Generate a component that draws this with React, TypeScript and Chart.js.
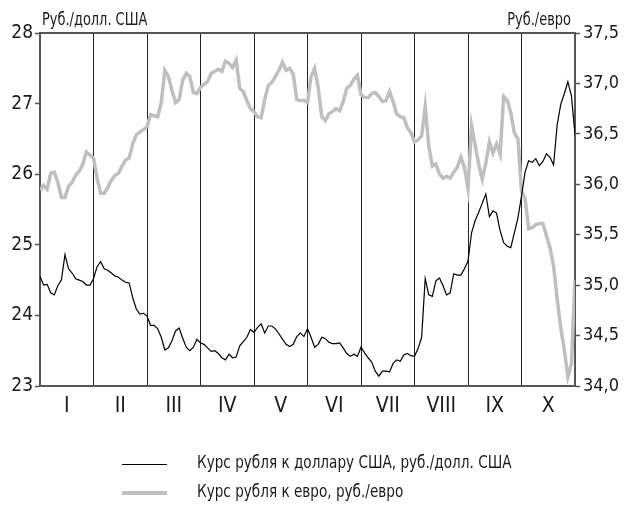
import React, { useEffect, useRef } from 'react';
import { Chart, registerables } from 'chart.js';

Chart.register(...registerables);

const MONTHS = ['I', 'II', 'III', 'IV', 'V', 'VI', 'VII', 'VIII', 'IX', 'X'];
const POINTS_PER_MONTH = 15;

const USD_LABEL = 'Курс рубля к доллару США, руб./долл. США';
const EUR_LABEL = 'Курс рубля к евро, руб./евро';
const LEFT_TITLE = 'Руб./долл. США';
const RIGHT_TITLE = 'Руб./евро';

const USD_TICKS = { min: 23, max: 28, step: 1 };
const EUR_TICKS = { min: 34, max: 37.5, step: 0.5 };

const USD = [
  24.55, 24.43, 24.44, 24.32, 24.29, 24.42, 24.50, 24.86, 24.66, 24.60, 24.52, 24.50, 24.48, 24.43, 24.43,
  24.52, 24.69, 24.76, 24.66, 24.64, 24.60, 24.56, 24.54, 24.50, 24.47, 24.46, 24.25, 24.09, 24.02, 24.03,
  23.99, 23.86, 23.86, 23.81, 23.69, 23.51, 23.54, 23.64, 23.78, 23.82, 23.68, 23.55, 23.50, 23.55, 23.66,
  23.61, 23.59, 23.54, 23.49, 23.50, 23.46, 23.40, 23.37, 23.45, 23.40, 23.41, 23.57, 23.63, 23.69, 23.80,
  23.76, 23.83, 23.88, 23.75, 23.85, 23.85, 23.81, 23.74, 23.66, 23.59, 23.56, 23.59, 23.70, 23.75, 23.70,
  23.81, 23.69, 23.55, 23.59, 23.69, 23.67, 23.62, 23.60, 23.60, 23.61, 23.54, 23.46, 23.42, 23.45, 23.42,
  23.55, 23.47, 23.40, 23.34, 23.21, 23.14, 23.21, 23.21, 23.20, 23.32, 23.37, 23.35, 23.44, 23.46, 23.43,
  23.42, 23.53, 23.69, 24.52, 24.29, 24.27, 24.49, 24.53, 24.42, 24.29, 24.32, 24.59, 24.57, 24.57, 24.66,
  24.77, 25.17, 25.34, 25.46, 25.59, 25.72, 25.40, 25.48, 25.45, 25.20, 25.03, 24.98, 24.96, 25.17, 25.38,
  25.69, 26.03, 26.19, 26.17, 26.22, 26.12, 26.18, 26.29, 26.24, 26.13, 26.70, 26.99, 27.14, 27.31, 27.11, 26.56,
];

const EUR = [
  35.94, 35.99, 35.95, 36.11, 36.12, 36.02, 35.87, 35.87, 35.98, 36.02, 36.09, 36.13, 36.20, 36.32, 36.29,
  36.26, 36.06, 35.91, 35.91, 35.97, 36.04, 36.09, 36.11, 36.18, 36.24, 36.26, 36.40, 36.49, 36.52, 36.54,
  36.57, 36.69, 36.68, 36.67, 36.81, 37.13, 37.07, 36.93, 36.81, 36.84, 37.03, 37.10, 37.07, 36.91, 36.90,
  36.96, 36.99, 37.02, 37.10, 37.12, 37.14, 37.12, 37.22, 37.20, 37.16, 37.23, 36.95, 36.92, 36.83, 36.75,
  36.72, 36.67, 36.66, 36.84, 36.98, 37.01, 37.07, 37.13, 37.21, 37.13, 37.15, 37.09, 36.84, 36.83, 36.83,
  36.81, 37.07, 37.15, 36.96, 36.67, 36.63, 36.70, 36.72, 36.75, 36.73, 36.82, 36.95, 36.98, 37.04, 37.08,
  36.89, 36.86, 36.86, 36.90, 36.91, 36.87, 36.82, 36.83, 36.92, 36.82, 36.70, 36.67, 36.66, 36.56, 36.51,
  36.42, 36.44, 36.48, 36.77, 36.38, 36.18, 36.20, 36.10, 36.06, 36.08, 36.06, 36.12, 36.17, 36.27, 36.17,
  35.96, 36.58, 36.39, 36.20, 36.05, 36.21, 36.42, 36.31, 36.40, 36.30, 36.87, 36.83, 36.71, 36.51, 36.45,
  35.93, 35.86, 35.56, 35.57, 35.60, 35.61, 35.61, 35.49, 35.37, 35.19, 34.86, 34.58, 34.36, 34.09, 34.22, 35.05,
];

const FONT = "'Liberation Sans Narrow', 'Arial Narrow', 'DejaVu Sans Condensed', 'Roboto Condensed', 'Liberation Sans', sans-serif";
const USD_COLOR = '#000000';
const EUR_COLOR = '#bfbfbf';
const AXIS_COLOR = '#555555';
const TEXT_COLOR = '#1a1a1a';

function drawScaledText(ctx: any, text: string, x: number, y: number, align: 'left' | 'right', sx: number) {
  ctx.save();
  ctx.translate(x, y);
  ctx.scale(sx, 1);
  ctx.textAlign = align;
  ctx.fillText(text, 0, 0);
  ctx.restore();
}

const extrasPlugin = {
  id: 'extras',
  afterDraw(chart: any) {
    const { ctx, chartArea } = chart;
    ctx.save();
    // top frame line
    ctx.strokeStyle = AXIS_COLOR;
    ctx.lineWidth = 2;
    ctx.beginPath();
    ctx.moveTo(chartArea.left - 1, chartArea.top);
    ctx.lineTo(chartArea.right + 1, chartArea.top);
    ctx.stroke();

    // axis titles
    ctx.fillStyle = TEXT_COLOR;
    ctx.font = `18px ${FONT}`;
    ctx.textBaseline = 'alphabetic';
    drawScaledText(ctx, LEFT_TITLE, chartArea.left + 2, 25, 'left', 0.8);
    drawScaledText(ctx, RIGHT_TITLE, chartArea.right - 4, 25, 'right', 0.8);

    // legend
    const items = [
      { label: USD_LABEL, color: USD_COLOR, width: 1.2, y: 464.5 },
      { label: EUR_LABEL, color: EUR_COLOR, width: 4, y: 493 },
    ];
    ctx.textBaseline = 'middle';
    ctx.font = `18px ${FONT}`;
    for (const it of items) {
      ctx.strokeStyle = it.color;
      ctx.lineWidth = it.width;
      ctx.beginPath();
      ctx.moveTo(122, it.y);
      ctx.lineTo(167, it.y);
      ctx.stroke();
      ctx.fillStyle = TEXT_COLOR;
      drawScaledText(ctx, it.label, 197, it.y - 1, 'left', 0.84);
    }
    ctx.restore();
  },
};

export default function App() {
  const ref = useRef<HTMLCanvasElement>(null);

  useEffect(() => {
    const total = MONTHS.length * POINTS_PER_MONTH;
    const half = POINTS_PER_MONTH / 2;
    const chart = new Chart(ref.current as HTMLCanvasElement, {
      type: 'line',
      data: {
        datasets: [
          {
            label: USD_LABEL,
            data: USD.map((v, i) => ({ x: i, y: v })),
            borderColor: USD_COLOR,
            borderWidth: 1.2,
            pointRadius: 0,
            tension: 0,
            yAxisID: 'y',
          },
          {
            label: EUR_LABEL,
            data: EUR.map((v, i) => ({ x: i, y: v })),
            borderColor: EUR_COLOR,
            borderWidth: 3.5,
            pointRadius: 0,
            tension: 0,
            yAxisID: 'y1',
          },
        ],
      },
      options: {
        responsive: false,
        devicePixelRatio: 1,
        animation: false,
        events: [],
        layout: { padding: { top: 33, left: 0, right: 0, bottom: 0 } },
        plugins: {
          legend: { display: false },
          tooltip: { enabled: false },
          title: { display: false },
        },
        scales: {
          x: {
            type: 'linear',
            min: 0,
            max: total,
            afterBuildTicks: (s: any) => {
              s.ticks = Array.from({ length: MONTHS.length * 2 + 1 }, (_, i) => ({ value: i * half }));
            },
            afterFit: (s: any) => {
              s.height = 120;
            },
            grid: {
              color: (c: any) => (c.tick && Math.round(c.tick.value / half) % 2 === 0 ? '#222222' : 'rgba(0,0,0,0)'),
              lineWidth: 1,
              drawTicks: false,
            },
            border: { display: true, color: AXIS_COLOR, width: 2 },
            ticks: {
              autoSkip: false,
              maxRotation: 0,
              padding: 8,
              color: TEXT_COLOR,
              font: { family: FONT, size: 21 },
              callback: (v: any) => {
                const n = Math.round(Number(v) / half);
                return n % 2 === 1 ? MONTHS[(n - 1) / 2] : '';
              },
            },
          },
          y: {
            position: 'left',
            min: USD_TICKS.min,
            max: USD_TICKS.max,
            afterFit: (s: any) => {
              s.width = 40;
            },
            grid: { drawOnChartArea: false, drawTicks: true, tickLength: 5, tickColor: AXIS_COLOR, tickWidth: 1.5 },
            border: { display: true, color: AXIS_COLOR, width: 2 },
            ticks: {
              stepSize: USD_TICKS.step,
              padding: 2,
              color: TEXT_COLOR,
              font: { family: FONT, size: 19 },
              callback: (v: any) => String(v),
            },
          },
          y1: {
            position: 'right',
            min: EUR_TICKS.min,
            max: EUR_TICKS.max,
            afterFit: (s: any) => {
              s.width = 50;
            },
            grid: { drawOnChartArea: false, drawTicks: true, tickLength: 5, tickColor: AXIS_COLOR, tickWidth: 1.5 },
            border: { display: true, color: AXIS_COLOR, width: 2 },
            ticks: {
              stepSize: EUR_TICKS.step,
              padding: 3,
              color: TEXT_COLOR,
              font: { family: FONT, size: 18 },
              callback: (v: any) => Number(v).toFixed(1).replace('.', ','),
            },
          },
        },
      },
      plugins: [extrasPlugin],
    } as any);
    return () => chart.destroy();
  }, []);

  return (
    <div style={{ position: 'absolute', left: 0, top: 0, width: 625, height: 506, background: '#fff' }}>
      <canvas ref={ref} width={625} height={506} style={{ display: 'block', width: 625, height: 506 }} />
    </div>
  );
}
